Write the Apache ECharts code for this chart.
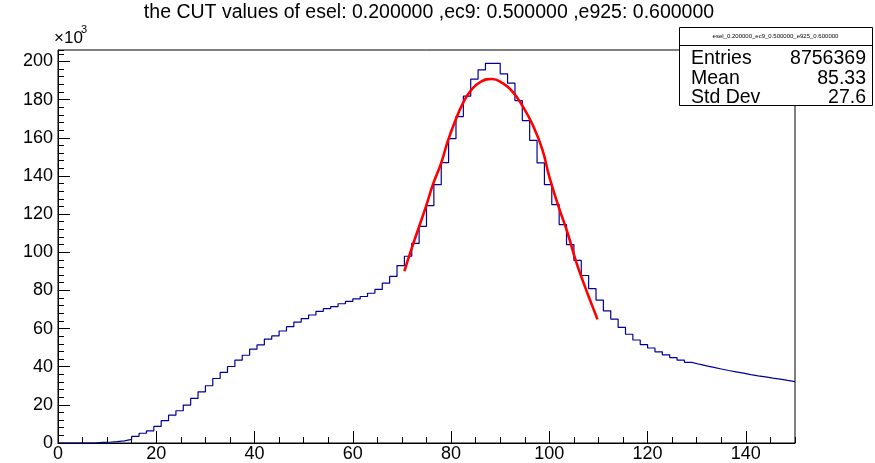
<!DOCTYPE html>
<html>
<head>
<meta charset="utf-8">
<script src="https://cdn.jsdelivr.net/npm/echarts@6/dist/echarts.min.js"></script>
<style>
html,body{margin:0;padding:0;background:#fff;}
#chart{width:875px;height:463px;}
</style>
</head>
<body>
<div id="chart"></div>
<script>
// Histogram: 100 bins of width 1.5 from 0 to 150, counts in thousands (x10^3)
const binLow = 0, binWidth = 1.5, nBins = 100;
const counts = [
  0,0,0,0,0,0.3,0.4,0.7,1.1,1.9,
  3.5,5.1,6.4,8.7,11.7,14.6,16.9,19.9,23.4,26.8,
  30.0,33.8,37.0,40.1,43.4,46.0,49.2,51.4,54.4,56.1,
  58.7,61.0,63.4,65.2,67.1,69.0,70.4,71.5,73.0,74.2,
  75.5,76.8,78.5,80.5,83.8,87.3,93.0,97.9,104.6,113.6,
  124.4,135.4,147.0,159.5,171.1,181.8,190.7,195.6,199.0,199.0,
  193.5,188.6,179.5,169.0,158.6,146.8,135.4,125.0,114.5,104.0,
  95.7,87.8,80.9,74.9,69.3,64.9,60.6,57.0,54.0,51.6,
  49.8,47.8,46.2,44.8,43.4,42.3,41.3,40.4,39.6,38.8,
  38.0,37.3,36.6,35.8,35.2,34.7,34.0,33.5,32.8,32.2
];
// Fit curve points (x, thousands)
const fitX = [70.5,71.9,74.9,76.3,78.0,79.3,80.8,82.4,84.1,86.1,88.3,90.5,92.5,94.6,96.6,98.6,100.0,102.0,103.7,105.4,107.1,108.8,109.8];
const fitY = [90.1,101.4,124.0,135.4,146.8,158.0,168.5,178.0,185.0,189.4,190.8,188.6,184.2,176.4,166.8,153.7,139.5,123.0,110.2,95.5,83.0,71.5,64.8];

const titleText = 'the CUT values of esel: 0.200000 ,ec9: 0.500000 ,e925: 0.600000';
const statsName = 'esel_0.200000_ec9_0.500000_e925_0.600000';
const statsLabels = ['Entries', 'Mean', 'Std Dev'];
const statsValues = ['8756369', '85.33', '27.6'];
const xMin = 0, xMax = 150, xMajor = 20, xMinor = 5;
const yMin = 0, yMax = 206, yMajor = 20, yMinor = 4;

const histData = counts.map((v, i) => [binLow + i * binWidth, v]);
histData.push([binLow + nBins * binWidth, counts[nBins - 1]]);
const fitData = fitX.map((x, i) => [x, fitY[i]]);

const FONT = 'Liberation Sans, Arial, sans-serif';
const chart = echarts.init(document.getElementById('chart'));

const majorX = {type:'value', position:'bottom', min:xMin, max:xMax, interval:xMajor,
  axisLine:{show:true, onZero:false, lineStyle:{color:'#000', width:1}},
  axisTick:{show:true, inside:true, length:12, lineStyle:{color:'#000'}},
  axisLabel:{show:true, color:'#000', fontSize:18, fontFamily:FONT, margin:2, showMaxLabel:false,
    formatter: v => (v === xMax ? '' : String(v))},
  splitLine:{show:false}};
const minorX = {type:'value', position:'bottom', min:xMin, max:xMax, interval:xMinor,
  axisLine:{show:false}, axisTick:{show:true, inside:true, length:6, lineStyle:{color:'#000'}},
  axisLabel:{show:false}, splitLine:{show:false}};
const majorY = {type:'value', position:'left', min:yMin, max:yMax, interval:yMajor,
  axisLine:{show:true, onZero:false, lineStyle:{color:'#000', width:1}},
  axisTick:{show:true, inside:true, length:12, lineStyle:{color:'#000'}},
  axisLabel:{show:true, color:'#000', fontSize:18, fontFamily:FONT, margin:5, showMaxLabel:false,
    formatter: v => (v === yMax ? '' : String(v))},
  splitLine:{show:false}};
const minorY = {type:'value', position:'left', min:yMin, max:yMax, interval:yMinor,
  axisLine:{show:false}, axisTick:{show:true, inside:true, length:6, lineStyle:{color:'#000'}},
  axisLabel:{show:false}, splitLine:{show:false}};

const boxX = 679, boxY = 27, boxW = 193, boxH = 78;
const graphics = [
  {type:'text', x:429, y:13, z:10, style:{text:titleText, fill:'#000', font:'19.5px ' + FONT, textAlign:'center', textVerticalAlign:'middle'}},
  {type:'text', x:54, y:38, z:10, style:{text:'\u00d710', fill:'#000', font:'17px ' + FONT, textAlign:'left', textVerticalAlign:'middle'}},
  {type:'text', x:81, y:30, z:10, style:{text:'3', fill:'#000', font:'11px ' + FONT, textAlign:'left', textVerticalAlign:'middle'}},
  {type:'rect', z:10, shape:{x:boxX+0.5, y:boxY+0.5, width:boxW, height:boxH}, style:{fill:'#fff', stroke:'#000', lineWidth:1}},
  {type:'line', z:11, shape:{x1:boxX, y1:boxY+18.5, x2:boxX+boxW, y2:boxY+18.5}, style:{stroke:'#000', lineWidth:1}},
  {type:'text', x:boxX + boxW/2, y:boxY + 9, z:11, style:{text:statsName, fill:'#000', font:'6px ' + FONT, textAlign:'center', textVerticalAlign:'middle'}}
];
statsLabels.forEach((lab, i) => {
  const yy = boxY + 32 + i * 19.5;
  graphics.push({type:'text', x:boxX + 12, y:yy, z:11, style:{text:lab, fill:'#000', font:'19.5px ' + FONT, textAlign:'left', textVerticalAlign:'middle'}});
  graphics.push({type:'text', x:boxX + boxW - 6, y:yy, z:11, style:{text:statsValues[i], fill:'#000', font:'19.5px ' + FONT, textAlign:'right', textVerticalAlign:'middle'}});
});

chart.setOption({
  animation:false,
  backgroundColor:'#fff',
  grid:{left:58, right:80, top:50, bottom:19, show:true, borderColor:'#000', borderWidth:1, backgroundColor:'transparent', containLabel:false},
  xAxis:[majorX, minorX],
  yAxis:[majorY, minorY],
  series:[
    {type:'line', xAxisIndex:0, yAxisIndex:0, data:histData, step:'end', symbol:'none',
      lineStyle:{color:'#000099', width:1.2}, z:3},
    {type:'line', xAxisIndex:0, yAxisIndex:0, data:fitData, smooth:true, symbol:'none',
      lineStyle:{color:'#ff0000', width:2.6}, z:4}
  ],
  graphic:graphics
});
</script>
</body>
</html>
